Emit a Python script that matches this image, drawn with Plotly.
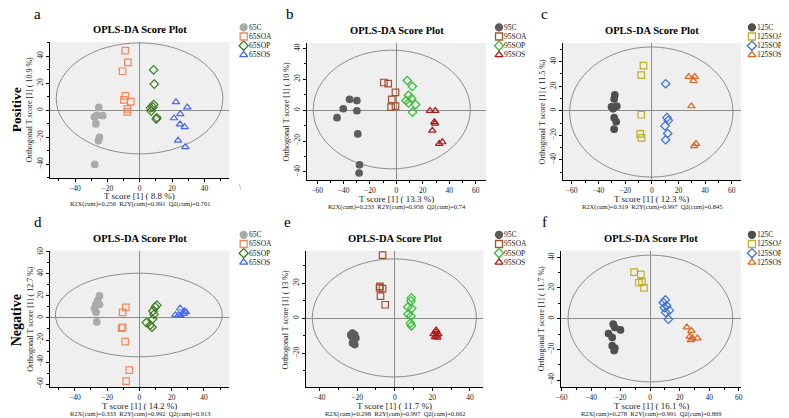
import plotly.graph_objects as go

W, H = 789, 418
OFF = 8  # the page body margin shifts the figure by 8 px, so layout is placed 8 px up/left
FONT = "Liberation Serif, Times New Roman, serif"
INK = "#222222"

# ---- score values (T score, orthogonal T score) ----
# a: positive, 65
a_c_x = [-25.3, -28.0, -26.5, -22.9, -27.1, -24.9, -25.5, -27.8]
a_c_y = [2.0, -5.1, -3.9, -4.1, -10.2, -20.2, -22.7, -40.2]
a_soa_x = [-9.0, -7.3, -10.6, -8.8, -9.8, -5.5, -7.6, -7.6]
a_soa_y = [44.1, 35.4, 28.8, 10.5, 7.6, 6.3, 1.0, -1.2]
a_sop_x = [8.6, 9.0, 8.6, 8.2, 6.7, 7.1, 10.6, 10.2]
a_sop_y = [29.8, 19.3, 4.1, 2.2, 1.7, -0.7, -5.6, -6.6]
a_sos_x = [22.4, 29.4, 25.1, 21.2, 24.9, 27.8, 23.7, 28.2]
a_sos_y = [6.1, 2.2, -2.9, -5.9, -10.5, -12.4, -22.4, -27.3]

# b: positive, 95
b_c_x = [-35.4, -29.9, -40.2, -29.9, -44.9, -29.2, -27.9, -28.2]
b_c_y = [7.0, 6.2, 0.9, -0.4, -4.9, -15.4, -35.4, -40.7]
b_soa_x = [-9.5, -6.2, -0.7, -3.5, -4.0, -0.7]
b_soa_y = [17.9, 17.1, 11.5, 7.0, 1.9, 2.6]
b_sop_x = [8.2, 12.0, 9.2, 11.5, 7.2, 9.2, 14.5, 12.2]
b_sop_y = [19.2, 15.4, 9.6, 7.5, 6.2, 4.7, 3.6, -1.3]
b_sos_x = [25.4, 29.4, 28.7, 29.2, 27.2, 34.7, 32.4]
b_sos_y = [-0.4, -0.4, -7.7, -8.7, -13.2, -20.7, -21.7]

# c: positive, 125
c_c_x = [-27.7, -28.2, -30.2, -26.2, -29.0, -28.2, -26.7, -28.2]
c_c_y = [12.9, 9.7, 3.2, 3.8, 1.6, -5.6, -8.9, -15.0]
c_soa_x = [-6.2, -7.9, -7.9, -8.7, -7.7]
c_soa_y = [36.8, 29.0, -3.2, -18.8, -22.0]
c_sop_x = [10.4, 11.4, 12.4, 9.9, 11.9, 10.4]
c_sop_y = [22.0, -5.6, -7.8, -12.3, -18.5, -23.6]
c_sos_x = [27.7, 32.2, 31.2, 29.7, 33.2, 31.7]
c_sos_y = [27.7, 27.7, 24.4, 3.8, -26.8, -28.7]

# d: negative, 65
d_c_x = [-24.7, -25.8, -24.7, -27.0, -27.8, -26.8, -26.4]
d_c_y = [20.0, 15.8, 12.2, 12.2, 8.7, 5.1, -3.6]
d_soa_x = [-8.4, -10.4, -10.4, -11.0, -8.8, -6.3, -8.2]
d_soa_y = [9.6, 5.1, -8.4, -9.3, -21.5, -47.2, -57.3]
d_sop_x = [10.8, 9.8, 8.4, 9.0, 8.2, 4.3, 6.7, 7.8]
d_sop_y = [11.6, 9.9, 6.3, 3.3, -0.9, -4.2, -6.6, -8.4]
d_sos_x = [25.2, 22.3, 24.3, 27.4, 27.8, 28.8, 25.4]
d_sos_y = [8.7, 2.7, 2.7, 3.9, 6.0, 5.4, 2.1]

# e: negative, 95
e_c_x = [-22.5, -21.3, -23.0, -20.7, -22.0, -21.3, -22.5, -23.4]
e_c_y = [-8.4, -9.4, -10.3, -11.3, -12.8, -15.0, -14.1, -9.4]
e_soa_x = [-6.5, -7.9, -8.1, -6.5, -7.6, -5.1]
e_soa_y = [36.0, 18.2, 17.3, 16.9, 12.6, 7.7]
e_sop_x = [8.8, 8.6, 6.9, 9.0, 7.0, 8.6, 8.3, 8.8]
e_sop_y = [11.6, 9.8, 6.4, 5.6, 2.3, 1.3, -2.8, -4.3]
e_sos_x = [22.0, 20.6, 23.2, 21.4, 22.7, 22.0, 22.3]
e_sos_y = [-6.8, -9.0, -9.0, -10.7, -10.9, -7.9, -9.8]

# f: negative, 125
f_c_x = [-25.0, -23.9, -20.1, -28.2, -25.7, -25.7, -23.9, -24.4]
f_c_y = [-3.6, -5.8, -7.3, -9.7, -12.2, -17.6, -19.1, -20.8]
f_soa_x = [-10.9, -6.3, -5.6, -7.6, -4.2]
f_soa_y = [30.3, 28.8, 24.0, 23.4, 20.0]
f_sop_x = [10.3, 8.9, 11.2, 13.0, 10.5, 12.3, 9.6]
f_sop_y = [12.2, 10.5, 8.4, 5.4, 4.1, -0.4, 7.1]
f_sos_x = [24.8, 27.9, 26.8, 28.6, 32.0, 27.5]
f_sos_y = [-5.6, -7.9, -11.6, -12.7, -12.7, -13.9]

groups_65 = ["65C", "65SOA", "65SOP", "65SOS"]
groups_95 = ["95C", "95SOA", "95SOP", "95SOS"]
groups_125 = ["125C", "125SOA", "125SOP", "125SOS"]

x_titles = ["T score [1] ( 8.8 %)", "T score [1] ( 13.3 %)", "T score [1] ( 12.3 %)",
            "T score [1] ( 14.2 %)", "T score [1] ( 11.7 %)", "T score [1] ( 16.1 %)"]
y_titles = ["Orthogonal T score [1] ( 10.9 %)", "Orthogonal T score [1] ( 10 %)",
            "Orthogonal T score [1] ( 11.5 %)", "Orthogonal T score [1] ( 12.7 %)",
            "Orthogonal T score [1] ( 13 %)", "Orthogonal T score [1] ( 11.7 %)"]
stats = ["R2X(cum)=0.256  R2Y(cum)=0.991  Q2(cum)=0.701",
         "R2X(cum)=0.233  R2Y(cum)=0.956  Q2(cum)=0.74",
         "R2X(cum)=0.319  R2Y(cum)=0.997  Q2(cum)=0.845",
         "R2X(cum)=0.333  R2Y(cum)=0.992  Q2(cum)=0.913",
         "R2X(cum)=0.298  R2Y(cum)=0.997  Q2(cum)=0.662",
         "R2X(cum)=0.278  R2Y(cum)=0.991  Q2(cum)=0.869"]

COLORS_65 = ["#ababab", "#f4875a", "#3b7d1f", "#4468ee"]
COLORS_95 = ["#5d5d5d", "#a3502d", "#2fbf2f", "#b3161a"]
COLORS_125 = ["#4f4f4f", "#bcb12a", "#3c6fd6", "#e0651f"]
SYMBOLS = ["circle", "square-open", "diamond-open", "triangle-up-open"]

# layout of each panel (window px): plot box, axis ranges, ellipse extent, legend column
PANELS = [
    dict(letter="a", box=(44.3, 38.3, 225.7, 175.7), xr=[-55.5, 55.5], yr=[-50, 50.5],
         ell=(-51.6, 51.4, -32.4, 49.8), names=groups_65, colors=COLORS_65,
         data=[(a_c_x, a_c_y), (a_soa_x, a_soa_y), (a_sop_x, a_sop_y), (a_sos_x, a_sos_y)],
         leg=(240, 23.5), lpos=(32, 10)),
    dict(letter="b", box=(304.3, 39.3, 485, 178.3), xr=[-67.4, 67.9], yr=[-45.4, 43.5],
         ell=(-62.9, 55.9, -38, 38.8), names=groups_95, colors=COLORS_95,
         data=[(b_c_x, b_c_y), (b_soa_x, b_soa_y), (b_sop_x, b_sop_y), (b_sos_x, b_sos_y)],
         leg=(498, 23.5), lpos=(287, 10)),
    dict(letter="c", box=(562.7, 39.3, 742.3, 178.3), xr=[-66.5, 66.8], yr=[-56.6, 55.3],
         ell=(-61.6, 60.9, -54, 52), names=groups_125, colors=COLORS_125,
         data=[(c_c_x, c_c_y), (c_soa_x, c_soa_y), (c_sop_x, c_sop_y), (c_sos_x, c_sos_y)],
         leg=(753.5, 23.5), lpos=(544, 10)),
    dict(letter="d", box=(44.3, 249.7, 225.7, 388), xr=[-55.4, 55.8], yr=[-63, 60.9],
         ell=(-52, 51.3, -35.2, 40.6), names=groups_65, colors=COLORS_65,
         data=[(d_c_x, d_c_y), (d_soa_x, d_soa_y), (d_sop_x, d_sop_y), (d_sos_x, d_sos_y)],
         leg=(240, 233.5), lpos=(32, 221)),
    dict(letter="e", box=(302.7, 249.7, 482.3, 388), xr=[-47.4, 47.2], yr=[-39.4, 38.4],
         ell=(-43.9, 43.4, -33.4, 33.8), names=groups_95, colors=COLORS_95,
         data=[(e_c_x, e_c_y), (e_soa_x, e_soa_y), (e_sop_x, e_sop_y), (e_sos_x, e_sos_y)],
         leg=(498, 233.5), lpos=(284, 221)),
    dict(letter="f", box=(561, 249.7, 742.3, 388), xr=[-60.1, 61.4], yr=[-44.8, 44.2],
         ell=(-55.6, 55.9, -41.2, 41.4), names=groups_125, colors=COLORS_125,
         data=[(f_c_x, f_c_y), (f_soa_x, f_soa_y), (f_sop_x, f_sop_y), (f_sos_x, f_sos_y)],
         leg=(753.5, 233.5), lpos=(544, 221)),
]
ROW_GAP = 9.3


def px(x):
    return (x - OFF) / W


def py(y):
    return 1 - (y - OFF) / H


def note(x, y, text, size, angle=0, anchor="center", color=INK):
    # every text is placed in window pixels
    return dict(x=px(x), y=py(y), xref="paper", yref="paper", text=text,
                showarrow=False, textangle=angle, xanchor=anchor, yanchor="middle",
                borderpad=0, font=dict(family=FONT, size=size, color=color))


fig = go.Figure()
layout = {}
shapes = []
annotations = []

axis_style = dict(
    showline=True, linecolor="black", linewidth=1, showgrid=False,
    zeroline=True, zerolinecolor="#8c8c8c", zerolinewidth=1,
    ticks="outside", ticklen=3, tickwidth=1, tickcolor="black",
    tickfont=dict(family=FONT, size=7.5, color=INK),
    minor=dict(dtick=10, ticks="outside", ticklen=2, tickcolor="black"),
)

for i, p in enumerate(PANELS, start=1):
    sfx = "" if i == 1 else str(i)
    x0, y0, x1, y1 = p["box"]
    layout[f"xaxis{sfx}"] = dict(axis_style, domain=[px(x0), px(x1)], range=p["xr"],
                                 dtick=20, anchor=f"y{sfx}")
    layout[f"yaxis{sfx}"] = dict(axis_style, domain=[py(y1), py(y0)], range=p["yr"],
                                 dtick=20, tickangle=-90, anchor=f"x{sfx}")

    # grey plot background and Hotelling ellipse
    shapes.append(dict(type="rect", xref=f"x{sfx} domain", yref=f"y{sfx} domain",
                       x0=0, x1=1, y0=0, y1=1, fillcolor="#efefef", line=dict(width=0),
                       layer="below"))
    ex0, ex1, ey0, ey1 = p["ell"]
    shapes.append(dict(type="circle", xref=f"x{sfx}", yref=f"y{sfx}",
                       x0=ex0, x1=ex1, y0=ey0, y1=ey1,
                       line=dict(color="#8c8c8c", width=1), layer="below"))

    for k, (name, (xs, ys)) in enumerate(zip(p["names"], p["data"])):
        col = p["colors"][k]
        fig.add_trace(go.Scatter(
            x=xs, y=ys, mode="markers", name=name, showlegend=False,
            xaxis=f"x{sfx}", yaxis=f"y{sfx}", cliponaxis=False,
            marker=dict(symbol=SYMBOLS[k], size=6.5, color=col,
                        line=dict(color=col, width=1.2)),
        ))

    # hand-made legend (plotly's legend rows are too tall for this spacing)
    mx, my = p["leg"]
    fig.add_trace(go.Scatter(
        x=[mx] * 4, y=[my + r * ROW_GAP for r in range(4)], mode="markers",
        showlegend=False, xaxis="x7", yaxis="y7", cliponaxis=False,
        marker=dict(symbol=SYMBOLS, size=7, color=p["colors"],
                    line=dict(color=p["colors"], width=1.3)),
    ))
    for r, name in enumerate(p["names"]):
        annotations.append(note(mx + 4.5, my + r * ROW_GAP, name, 7.5, anchor="left"))

    cx = (x0 + x1) / 2
    annotations += [
        note(p["lpos"][0], p["lpos"][1], p["letter"], 15, color="black"),
        note(cx, y0 - 12.5, "<b>OPLS-DA Score Plot</b>", 10.5, color="black"),
        note(cx, y1 + 18.5, x_titles[i - 1], 9),
        note(cx, y1 + 27, stats[i - 1], 6.5),
        note(x0 - 20.5, (y0 + y1) / 2, y_titles[i - 1], 8, angle=-90),
    ]

annotations += [
    note(10, 106.5, "<b>Positive</b>", 13.5, angle=-90, color="black"),
    note(10, 320, "<b>Negative</b>", 14, angle=-90, color="black"),
    note(237, 186, "\\", 8, color="#5a6ae0"),
]

# full-window overlay axis in window pixels, used only for the legend glyphs
layout["xaxis7"] = dict(domain=[0, 1], range=[OFF, W + OFF], visible=False, anchor="y7")
layout["yaxis7"] = dict(domain=[0, 1], range=[H + OFF, OFF], visible=False, anchor="x7")

fig.update_layout(
    **layout,
    width=W, height=H,
    margin=dict(l=0, r=0, t=0, b=0),
    paper_bgcolor="white",
    plot_bgcolor="rgba(0,0,0,0)",
    shapes=shapes,
    annotations=annotations,
    showlegend=False,
    font=dict(family=FONT, color=INK),
)

fig.write_html("out.html")
